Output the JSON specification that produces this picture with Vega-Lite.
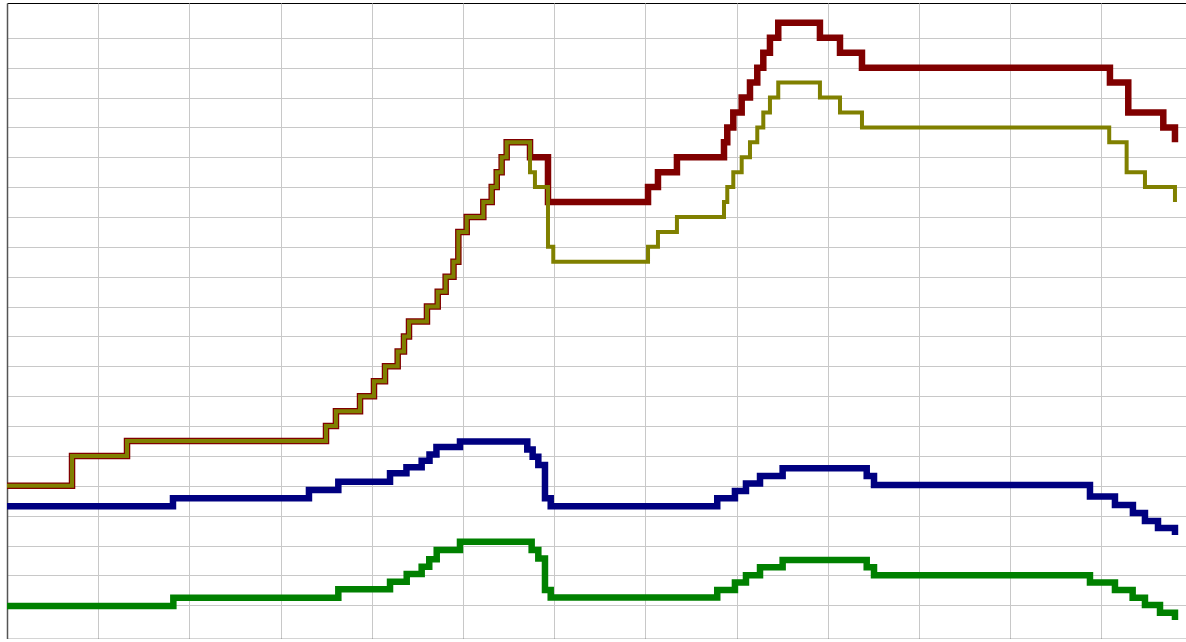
{
  "$schema": "https://vega.github.io/schema/vega-lite/v6.json",
  "autosize": {"type": "none"},
  "padding": {"left": 7, "top": 3, "right": 0, "bottom": 0},
  "width": 1179,
  "height": 636,
  "background": "#ffffff",
  "config": {
    "view": {"stroke": "#000000", "strokeWidth": 1},
    "axis": {"labels": false, "domainColor": "#555555", "domainWidth": 1.5, "gridColor": "#c8c8c8", "gridWidth": 1, "gridOpacity": 1, "tickColor": "#555555"}
  },
  "datasets": {
    "red": [
      {"x": 0, "y": 40}, {"x": 7.13, "y": 50}, {"x": 13.16, "y": 55}, {"x": 34.98, "y": 60}, {"x": 36.07, "y": 65},
      {"x": 38.71, "y": 70}, {"x": 40.24, "y": 75}, {"x": 41.45, "y": 80}, {"x": 42.84, "y": 85}, {"x": 43.53, "y": 90},
      {"x": 44.08, "y": 95}, {"x": 46.05, "y": 100}, {"x": 47.23, "y": 105}, {"x": 48.10, "y": 110}, {"x": 48.96, "y": 115},
      {"x": 49.49, "y": 125}, {"x": 50.41, "y": 130}, {"x": 52.23, "y": 135}, {"x": 53.15, "y": 140}, {"x": 53.70, "y": 145},
      {"x": 54.24, "y": 150}, {"x": 54.79, "y": 155}, {"x": 57.35, "y": 150}, {"x": 59.32, "y": 135}, {"x": 70.29, "y": 140},
      {"x": 71.38, "y": 145}, {"x": 73.46, "y": 150}, {"x": 78.62, "y": 155}, {"x": 78.98, "y": 160}, {"x": 79.64, "y": 165},
      {"x": 80.56, "y": 170}, {"x": 81.47, "y": 175}, {"x": 82.27, "y": 180}, {"x": 82.93, "y": 185}, {"x": 83.66, "y": 190},
      {"x": 84.57, "y": 195}, {"x": 89.14, "y": 190}, {"x": 91.34, "y": 185}, {"x": 93.75, "y": 180}, {"x": 120.94, "y": 175},
      {"x": 122.95, "y": 165}, {"x": 126.79, "y": 160}, {"x": 128.07, "y": 155}
    ],
    "olive": [
      {"x": 0, "y": 40}, {"x": 7.13, "y": 50}, {"x": 13.16, "y": 55}, {"x": 34.98, "y": 60}, {"x": 36.07, "y": 65},
      {"x": 38.71, "y": 70}, {"x": 40.24, "y": 75}, {"x": 41.45, "y": 80}, {"x": 42.84, "y": 85}, {"x": 43.53, "y": 90},
      {"x": 44.08, "y": 95}, {"x": 46.05, "y": 100}, {"x": 47.23, "y": 105}, {"x": 48.10, "y": 110}, {"x": 48.96, "y": 115},
      {"x": 49.49, "y": 125}, {"x": 50.41, "y": 130}, {"x": 52.23, "y": 135}, {"x": 53.15, "y": 140}, {"x": 53.70, "y": 145},
      {"x": 54.24, "y": 150}, {"x": 54.79, "y": 155}, {"x": 57.35, "y": 145}, {"x": 57.89, "y": 140}, {"x": 59.32, "y": 120},
      {"x": 59.90, "y": 115}, {"x": 70.29, "y": 120}, {"x": 71.38, "y": 125}, {"x": 73.46, "y": 130}, {"x": 78.62, "y": 135},
      {"x": 78.98, "y": 140}, {"x": 79.64, "y": 145}, {"x": 80.56, "y": 150}, {"x": 81.47, "y": 155}, {"x": 82.27, "y": 160},
      {"x": 82.93, "y": 165}, {"x": 83.66, "y": 170}, {"x": 84.57, "y": 175}, {"x": 89.14, "y": 170}, {"x": 91.34, "y": 165},
      {"x": 93.75, "y": 160}, {"x": 120.86, "y": 155}, {"x": 122.77, "y": 145}, {"x": 124.78, "y": 140}, {"x": 128.07, "y": 135}
    ],
    "navy": [
      {"x": 0, "y": 33.2}, {"x": 18.20, "y": 35.8}, {"x": 33.11, "y": 38.6}, {"x": 36.33, "y": 41.4}, {"x": 42.00, "y": 44.2},
      {"x": 43.80, "y": 46.2}, {"x": 45.47, "y": 48.4}, {"x": 46.33, "y": 50.5}, {"x": 47.09, "y": 53.0}, {"x": 49.67, "y": 54.8},
      {"x": 57.05, "y": 52.2}, {"x": 57.64, "y": 49.7}, {"x": 58.26, "y": 47.0}, {"x": 58.99, "y": 35.8}, {"x": 59.62, "y": 33.2},
      {"x": 77.88, "y": 35.8}, {"x": 79.82, "y": 38.3}, {"x": 81.03, "y": 40.8}, {"x": 82.57, "y": 43.3}, {"x": 85.05, "y": 45.9},
      {"x": 94.27, "y": 43.3}, {"x": 95.07, "y": 40.3}, {"x": 118.75, "y": 36.4}, {"x": 121.49, "y": 33.6}, {"x": 123.46, "y": 30.9},
      {"x": 124.78, "y": 28.2}, {"x": 126.21, "y": 25.9}, {"x": 128.07, "y": 23.5}
    ],
    "green": [
      {"x": 0, "y": -0.2}, {"x": 18.24, "y": 2.5}, {"x": 36.33, "y": 5.4}, {"x": 42.00, "y": 7.9}, {"x": 43.83, "y": 10.5},
      {"x": 45.47, "y": 12.9}, {"x": 46.30, "y": 15.4}, {"x": 47.12, "y": 18.5}, {"x": 49.67, "y": 21.3}, {"x": 57.53, "y": 18.5},
      {"x": 58.26, "y": 15.7}, {"x": 58.99, "y": 5.1}, {"x": 59.62, "y": 2.6}, {"x": 77.88, "y": 5.1}, {"x": 79.82, "y": 7.6},
      {"x": 81.03, "y": 10.1}, {"x": 82.57, "y": 12.7}, {"x": 85.05, "y": 15.2}, {"x": 94.27, "y": 12.7}, {"x": 95.07, "y": 10.1},
      {"x": 118.75, "y": 7.6}, {"x": 121.49, "y": 5.1}, {"x": 123.43, "y": 2.5}, {"x": 124.78, "y": 0.1}, {"x": 126.43, "y": -2.5},
      {"x": 128.07, "y": -4.9}
    ]
  },
  "layer": [
    {
      "data": {"name": "red"},
      "mark": {"type": "line", "interpolate": "step-after", "color": "#800000", "strokeWidth": 6.5, "strokeCap": "butt", "strokeJoin": "miter"},
      "encoding": {
        "x": {"field": "x", "type": "quantitative", "title": null, "scale": {"domain": [0, 129.28], "nice": false, "zero": false},
              "axis": {"orient": "bottom", "labels": false, "ticks": true, "tickSize": 4, "grid": true, "tickCount": 40, "values": [0, 10, 20, 30, 40, 50, 60, 70, 80, 90, 100, 110, 120, 130]}},
        "y": {"field": "y", "type": "quantitative", "title": null, "scale": {"domain": [-11.28, 201.64], "nice": false, "zero": false},
              "axis": {"orient": "left", "labels": false, "ticks": false, "grid": true, "tickCount": 40, "values": [0, 10, 20, 30, 40, 50, 60, 70, 80, 90, 100, 110, 120, 130, 140, 150, 160, 170, 180, 190]}}
      }
    },
    {
      "data": {"name": "olive"},
      "mark": {"type": "line", "interpolate": "step-after", "color": "#808000", "strokeWidth": 4, "strokeCap": "butt", "strokeJoin": "miter"},
      "encoding": {
        "x": {"field": "x", "type": "quantitative"},
        "y": {"field": "y", "type": "quantitative"}
      }
    },
    {
      "data": {"name": "navy"},
      "mark": {"type": "line", "interpolate": "step-after", "color": "#000080", "strokeWidth": 6.5, "strokeCap": "butt", "strokeJoin": "miter"},
      "encoding": {
        "x": {"field": "x", "type": "quantitative"},
        "y": {"field": "y", "type": "quantitative"}
      }
    },
    {
      "data": {"name": "green"},
      "mark": {"type": "line", "interpolate": "step-after", "color": "#008000", "strokeWidth": 6.5, "strokeCap": "butt", "strokeJoin": "miter"},
      "encoding": {
        "x": {"field": "x", "type": "quantitative"},
        "y": {"field": "y", "type": "quantitative"}
      }
    }
  ]
}
